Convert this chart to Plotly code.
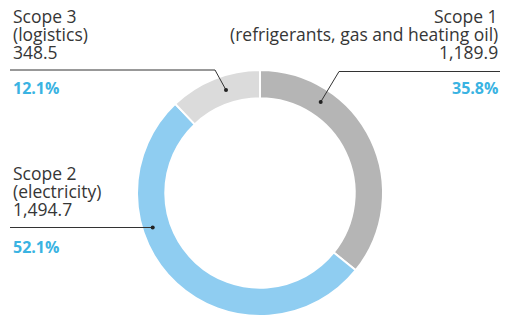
import plotly.graph_objects as go

# ---- data ----
scopes = ["Scope 1", "Scope 2", "Scope 3"]
descriptions = ["(refrigerants, gas and heating oil)", "(electricity)", "(logistics)"]
emissions = [1189.9, 1494.7, 348.5]
shares = [35.8, 52.1, 12.1]
colors = ["#b5b5b5", "#8fcdf1", "#dbdbdb"]

W, H = 506, 317
TEXT = "#363636"
PCT = "#3ab3e2"
FONT = "Open Sans"

def px(x):
    return x / W

def py(y):
    return 1 - y / H

cx, cy, R = 260, 193, 123

fig = go.Figure()
fig.add_trace(go.Pie(
    labels=scopes, values=shares, sort=False, direction="clockwise", rotation=0,
    hole=0.77, marker=dict(colors=colors, line=dict(color="white", width=2)),
    textinfo="none", hoverinfo="label+value", showlegend=False,
    domain=dict(x=[px(cx - R), px(cx + R)], y=[py(cy + R), py(cy - R)]),
))

def fmt(v):
    return f"{v:,.1f}"

# label blocks: (index, x, anchor, line centers, pct center)
blocks = [
    (2, 11, "left", [15.5, 33.5, 51.5], 87.5),
    (0, 500, "right", [15.5, 33.5, 51.5], 87.5),
    (1, 11, "left", [173, 191, 209], 246.5),
]
for i, x, anc, ys, yp in blocks:
    lines = [scopes[i], descriptions[i], fmt(emissions[i])]
    for t, y in zip(lines, ys):
        fig.add_annotation(x=px(x), y=py(y), xref="paper", yref="paper", text=t,
                           showarrow=False, xanchor=anc, yanchor="middle",
                           font=dict(family=FONT, size=17.5, color=TEXT))
    fig.add_annotation(x=px(x), y=py(yp), xref="paper", yref="paper",
                       text=f"<b>{shares[i]:.1f}%</b>", showarrow=False,
                       xanchor=anc, yanchor="middle",
                       font=dict(family=FONT, size=16, color=PCT))

# leader lines
leaders = [
    [(10, 70), (215, 70), (226, 90)],
    [(500, 71.5), (339, 71.5), (320.7, 102)],
    [(10, 227.5), (152.7, 227.5)],
]
for pts in leaders:
    for (x0, y0), (x1, y1) in zip(pts[:-1], pts[1:]):
        fig.add_shape(type="line", xref="paper", yref="paper",
                      x0=px(x0), y0=py(y0), x1=px(x1), y1=py(y1),
                      line=dict(color="#333333", width=1))
    ex, ey = pts[-1]
    fig.add_shape(type="circle", xref="paper", yref="paper",
                  x0=px(ex - 2), x1=px(ex + 2), y0=py(ey + 2), y1=py(ey - 2),
                  fillcolor="#222222", line=dict(width=0))

fig.update_layout(width=W, height=H, margin=dict(l=0, r=0, t=0, b=0),
                  paper_bgcolor="white", plot_bgcolor="white")
fig.write_html("out.html", config={"displayModeBar": False},
               post_script="document.body.style.margin='0';document.body.style.overflow='hidden';")
